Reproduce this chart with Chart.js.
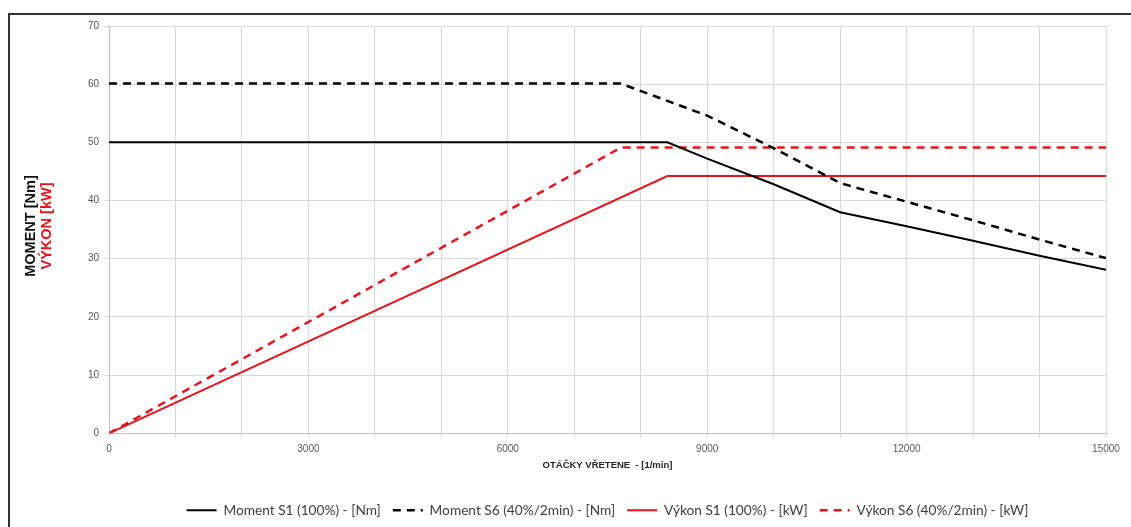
<!DOCTYPE html>
<html>
<head>
<meta charset="utf-8">
<script src="https://cdn.jsdelivr.net/npm/chart.js@4/dist/chart.umd.min.js"></script>
<style>
	html, body { margin:0; padding:0; background:#fff; }
	#wrap { position:relative; width:1131px; height:527px; overflow:hidden; }
	#frame { position:absolute; left:8px; top:13px; right:0; bottom:0; border-left:2px solid #333; border-top:2px solid #333; }
	#c { position:absolute; left:0; top:0; }
</style>
</head>
<body>
<div id="wrap">
	<div id="frame"></div>
	<canvas id="c" width="1131" height="527"></canvas>
</div>
<script>
// chart data
const momentS1Rpm = [0, 8400, 9000, 10000, 11000, 12000, 13000, 14000, 15000];
const momentS1 = [50, 50, 47.2, 42.8, 38, 35.6, 33.1, 30.5, 28.1];
const momentS6Rpm = [0, 7700, 9000, 10000, 11000, 12000, 13000, 14000, 15000];
const momentS6 = [60.1, 60.1, 54.6, 49, 43, 39.8, 36.6, 33.3, 30.1];
const vykonS1Rpm = [0, 8400, 15000];
const vykonS1 = [0, 44.2, 44.2];
const vykonS6Rpm = [0, 7700, 15000];
const vykonS6 = [0, 49.1, 49.1];
const seriesNames = ['Moment S1 (100%) - [Nm]', 'Moment S6 (40%/2min) - [Nm]', 'Výkon S1 (100%) - [kW]', 'Výkon S6 (40%/2min) - [kW]'];
const xLabelEvery = 3000;

(function(){
	const RED = '#e8141c';
	function pts(xs, ys){ return xs.map((x,i)=>({x:x, y:ys[i]})); }
	function ds(label, xs, ys, color, dashed){
		return {
			label: label,
			data: pts(xs, ys),
			borderColor: color,
			backgroundColor: color,
			borderWidth: dashed ? 2.5 : 2,
			borderDash: dashed ? [8,6] : [],
			pointRadius: 0,
			tension: 0,
			fill: false
		};
	}

	// two-colour rotated y title + legend centred under the plot
	const yTitle = {
		id: 'yTitle',
		afterLayout(chart){
			const lg = chart.legend, a = chart.chartArea;
			if (lg) { lg.left = a.left; lg.right = a.right; lg.width = a.right - a.left; }
		},
		afterDraw(chart){
			const ctx = chart.ctx;
			ctx.save();
			ctx.translate(0, 226);
			ctx.rotate(-Math.PI/2);
			ctx.textAlign = 'center';
			ctx.textBaseline = 'middle';
			ctx.font = 'bold 14.5px "Liberation Sans", Arial, sans-serif';
			ctx.fillStyle = '#111';
			ctx.fillText('MOMENT [Nm]', 0, 31);
			ctx.fillStyle = RED;
			ctx.fillText('VÝKON [kW]', 0, 47);
			ctx.restore();
		}
	};

	const grid = '#d9d9d9';
	new Chart(document.getElementById('c'), {
		type: 'line',
		data: {
			datasets: [
				ds(seriesNames[0], momentS1Rpm, momentS1, '#000', false),
				ds(seriesNames[1], momentS6Rpm, momentS6, '#000', true),
				ds(seriesNames[2], vykonS1Rpm, vykonS1, RED, false),
				ds(seriesNames[3], vykonS6Rpm, vykonS6, RED, true)
			]
		},
		options: {
			responsive: false,
			animation: false,
			layout: { padding: { left: 0, right: 25, top: 26, bottom: 0 } },
			plugins: {
				tooltip: { enabled: false },
				legend: {
					position: 'bottom',
					labels: {
						usePointStyle: true,
						pointStyle: 'line',
						pointStyleWidth: 30,
						padding: 12,
						color: '#404040',
						font: { family: 'Lato, "Open Sans", sans-serif', size: 13.7 },
						generateLabels(chart){
							const items = Chart.defaults.plugins.legend.labels.generateLabels(chart);
							items.forEach(it=>{
								const d = chart.data.datasets[it.datasetIndex];
								it.lineDash = d.borderDash;
								it.lineWidth = d.borderWidth;
								it.strokeStyle = d.borderColor;
							});
							return items;
						}
					}
				}
			},
			scales: {
				x: {
					type: 'linear',
					min: 0, max: 15000,
					afterFit: s => { s.height = 58; },
					border: { color: '#bfbfbf' },
					grid: { color: grid, tickLength: 4, tickColor: grid },
					ticks: {
						stepSize: 1000, autoSkip: false, maxRotation: 0, padding: 6,
						color: '#595959',
						font: { family: '"Liberation Sans", Arial, sans-serif', size: 10 },
						callback: v => (v % xLabelEvery === 0 ? String(v) : '')
					},
					title: {
						display: true,
						text: 'OTÁČKY VŘETENE  - [1/min]',
						color: '#262626',
						font: { family: '"Liberation Sans", Arial, sans-serif', size: 9.5, weight: 'bold' },
						padding: { top: 0, bottom: 20 }
					}
				},
				y: {
					min: 0, max: 70,
					afterFit: s => { s.width = 109; },
					border: { color: '#bfbfbf' },
					grid: { color: grid, tickLength: 4, tickColor: grid },
					ticks: {
						stepSize: 10, padding: 6,
						color: '#595959',
						font: { family: '"Liberation Sans", Arial, sans-serif', size: 10 }
					}
				}
			}
		},
		plugins: [yTitle]
	});
})();
</script>
</body>
</html>
